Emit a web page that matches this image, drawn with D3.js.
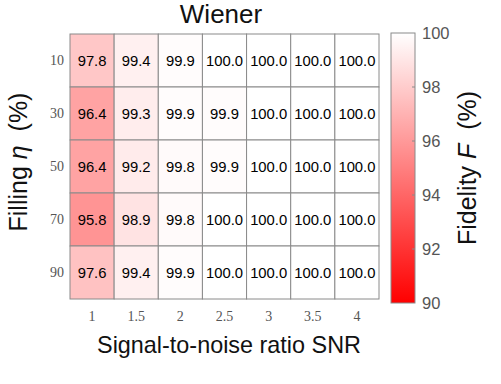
<!DOCTYPE html>
<html><head><meta charset="utf-8">
<script src="https://cdn.jsdelivr.net/npm/d3@7"></script>
<style>body{margin:0;background:#fff}</style>
</head><body>
<svg id="c" width="501" height="384"></svg>
<script>
const snr = ["1","1.5","2","2.5","3","3.5","4"];
const filling = ["10","30","50","70","90"];
const row10 = [97.8,99.4,99.9,100.0,100.0,100.0,100.0];
const row30 = [96.4,99.3,99.9,99.9,100.0,100.0,100.0];
const row50 = [96.4,99.2,99.8,99.9,100.0,100.0,100.0];
const row70 = [95.8,98.9,99.8,100.0,100.0,100.0,100.0];
const row90 = [97.6,99.4,99.9,100.0,100.0,100.0,100.0];
const cbTicks = [90,92,94,96,98,100];
const rows = [row10,row30,row50,row70,row90];

const SANS = "Liberation Sans, Arial, sans-serif";
const SERIF = "Liberation Serif, Times New Roman, serif";
const svg = d3.select("#c");
const L=70,R=379,T=34,B=299;
const x = d3.scaleBand().domain(snr).range([L,R]);
const y = d3.scaleBand().domain(filling).range([T,B]);
const color = d3.scaleLinear().domain([90,100]).range(["#ff0000","#ffffff"]).clamp(true);

const cells=[];
rows.forEach((r,i)=>r.forEach((v,j)=>cells.push({f:filling[i],s:snr[j],v})));

svg.selectAll("rect.cell").data(cells).enter().append("rect")
 .attr("x",d=>x(d.s)).attr("y",d=>y(d.f))
 .attr("width",x.bandwidth()).attr("height",y.bandwidth())
 .attr("fill",d=>color(d.v)).attr("stroke","#8a8a8a").attr("stroke-width",1);

svg.selectAll("text.val").data(cells).enter().append("text")
 .attr("x",d=>x(d.s)+x.bandwidth()/2).attr("y",d=>y(d.f)+y.bandwidth()/2)
 .attr("text-anchor","middle").attr("dominant-baseline","central")
 .attr("font-family",SANS).attr("font-size",14.8)
 .attr("fill","#000").text(d=>d.v.toFixed(1));

// axes tick labels
svg.selectAll("text.xt").data(snr).enter().append("text")
 .attr("x",d=>x(d)+x.bandwidth()/2).attr("y",316)
 .attr("text-anchor","middle").attr("dominant-baseline","central")
 .attr("font-family",SERIF).attr("font-size",14)
 .attr("fill","#555").text(d=>d);
svg.selectAll("text.yt").data(filling).enter().append("text")
 .attr("x",64).attr("y",d=>y(d)+y.bandwidth()/2)
 .attr("text-anchor","end").attr("dominant-baseline","central")
 .attr("font-family",SERIF).attr("font-size",14)
 .attr("fill","#555").text(d=>d);

// title
svg.append("text").attr("x",221).attr("y",23).attr("text-anchor","middle")
 .attr("font-family",SANS).attr("font-size",26).attr("fill","#111").text("Wiener");
// x label
svg.append("text").attr("x",229).attr("y",353).attr("text-anchor","middle")
 .attr("font-family",SANS).attr("font-size",23.4).attr("fill","#111").text("Signal-to-noise ratio SNR");
// y label
const yl = svg.append("text").attr("transform","translate(27,162) rotate(-90)").attr("text-anchor","middle")
 .attr("font-family",SANS).attr("font-size",25).attr("fill","#111");
yl.append("tspan").text("Filling ");
yl.append("tspan").attr("font-style","italic").text("η");
yl.append("tspan").attr("xml:space","preserve").text("  (%)");

// colorbar
const cbX=391, cbW=24, cbT=33, cbB=303;
const cy = d3.scaleLinear().domain([90,100]).range([cbB,cbT]);
const defs=svg.append("defs");
const g=defs.append("linearGradient").attr("id","g").attr("x1",0).attr("x2",0).attr("y1",1).attr("y2",0);
g.append("stop").attr("offset","0%").attr("stop-color",color(90));
g.append("stop").attr("offset","100%").attr("stop-color",color(100));
svg.append("rect").attr("x",cbX).attr("y",cbT).attr("width",cbW).attr("height",cbB-cbT)
 .attr("fill","url(#g)").attr("stroke","#8a8a8a").attr("stroke-width",1);
svg.selectAll("line.cbt").data(cbTicks.slice(1,-1)).enter().append("line")
 .attr("x1",cbX+cbW-3).attr("x2",cbX+cbW).attr("y1",d=>cy(d)).attr("y2",d=>cy(d)).attr("stroke","#8a8a8a");
svg.selectAll("text.cbl").data(cbTicks).enter().append("text")
 .attr("x",422).attr("y",d=>cy(d)).attr("dominant-baseline","central")
 .attr("font-family",SANS).attr("font-size",16.5)
 .attr("fill","#555").text(d=>d);
const cl = svg.append("text").attr("transform","translate(476,168) rotate(-90)").attr("text-anchor","middle")
 .attr("font-family",SANS).attr("font-size",25).attr("fill","#111");
cl.append("tspan").text("Fidelity ");
cl.append("tspan").attr("font-style","italic").text("F");
cl.append("tspan").attr("xml:space","preserve").text("  (%)");
</script>
</body></html>
